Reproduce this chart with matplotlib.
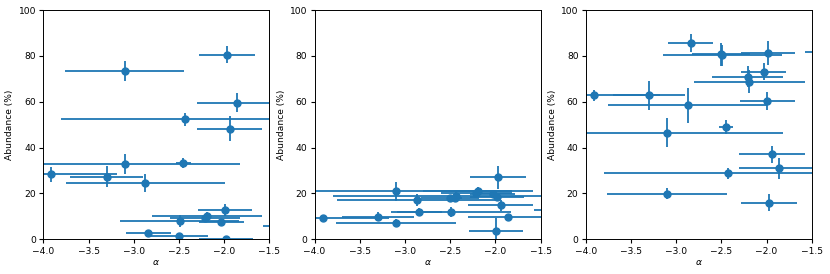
import numpy as np
import matplotlib.pyplot as plt

# spectral index (shared by all three panels)
alpha = [-3.91, -3.30, -3.10, -3.10, -2.87, -2.84, -2.50, -2.49, -2.45, -2.43,
         -2.21, -2.19, -2.03, -1.99, -1.97, -1.98, -1.94, -1.86, -1.25]
alpha_err = [0.73, 0.40, 0.66, 1.28, 0.88, 0.25, 0.32, 0.66, 0.08, 1.37,
             0.39, 0.61, 0.25, 0.30, 0.31, 0.30, 0.36, 0.44, 0.32]

# abundances (%) per panel
abund1 = [28.3, 27.3, 73.3, 32.7, 24.5, 2.6, 1.3, 8.0, 33.4, 52.3,
          9.1, 10.2, 7.7, 12.8, 80.4, 0.1, 48.2, 59.6, 5.7]
abund1_err = [3.2, 4.7, 4.4, 4.3, 4.0, 1.0, 1.5, 2.8, 2.2, 2.9,
              1.5, 1.5, 1.0, 2.8, 3.7, 0.8, 5.5, 4.1, 0.5]

abund2 = [9.2, 9.9, 7.0, 20.9, 17.2, 12.0, 18.2, 12.0, 17.8, 19.0,
          20.4, 21.2, 19.6, 3.8, 27.0, 18.6, 14.8, 9.6, 13.0]
abund2_err = [1.0, 2.0, 1.8, 4.0, 2.5, 1.5, 1.2, 2.3, 1.5, 1.5,
              1.0, 1.5, 1.0, 5.5, 5.0, 1.2, 2.5, 1.2, 0.5]

abund3 = [62.8, 62.9, 19.9, 46.5, 58.4, 85.6, 80.6, 80.2, 49.0, 28.8,
          70.9, 68.8, 73.1, 60.3, 16.0, 81.1, 37.0, 31.0, 81.7]
abund3_err = [2.3, 6.3, 2.3, 6.3, 7.8, 4.0, 5.0, 4.5, 3.0, 2.4,
              4.6, 5.0, 3.6, 4.0, 3.6, 5.2, 3.8, 4.5, 0.5]

plt.rcParams['font.size'] = 6.6
plt.rcParams['xtick.major.size'] = 2.7
plt.rcParams['ytick.major.size'] = 2.7
plt.rcParams['xtick.major.pad'] = 2.5
plt.rcParams['ytick.major.pad'] = 2.5
plt.rcParams['axes.linewidth'] = 0.7

fig, axes = plt.subplots(1, 3, figsize=(8.3, 2.74), dpi=100)
fig.subplots_adjust(left=0.0522, right=0.978, bottom=0.1266, top=0.9635, wspace=0.2)

panels = [(abund1, abund1_err), (abund2, abund2_err), (abund3, abund3_err)]

for ax, (y, yerr) in zip(axes, panels):
    ax.errorbar(alpha, y, xerr=alpha_err, yerr=yerr, fmt='o', color='C0',
                markersize=5, elinewidth=1.3)
    ax.set_xlim(-4, -1.5)
    ax.set_ylim(0, 100)
    ax.set_xticks(np.arange(-4, -1.49, 0.5))
    ax.set_yticks(np.arange(0, 101, 20))
    ax.set_xlabel(r'$\alpha$', labelpad=2)
    ax.set_ylabel('Abundance (%)', labelpad=3)

plt.savefig('out.png', dpi=100)
